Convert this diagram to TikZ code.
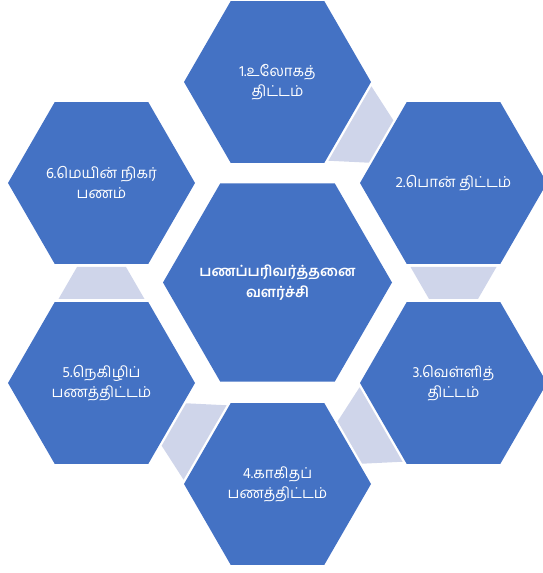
\documentclass[tikz,border=0pt]{standalone}
\usepackage{fontspec}
\setmainfont{Hind Madurai}[Script=Tamil]
\usetikzlibrary{shapes.geometric}
\usetikzlibrary{calc}
\definecolor{hexblue}{HTML}{4472C4}
\definecolor{linkgray}{HTML}{CFD5EA}

\begin{document}
\begin{tikzpicture}[x=1pt, y=1pt,
        hexa/.style={regular polygon, regular polygon sides=6, fill=hexblue, text=white, align=center, inner sep=-20pt, outer sep=0pt, minimum size=187pt, font=\fontsize{15}{20}\selectfont},
        hub/.style={hexa, minimum size=229pt, font=\fontsize{14.5}{21}\selectfont\bfseries}]
        \useasboundingbox (0,0) rectangle (542,573);
        % Draw the centre hexagon
        \node[hub] (core) at (277.5,290.5) {பணப்பரிவர்த்தனை\\வளர்ச்சி};
        % Draw the six stages
        \node[hexa] (s1) at (277.5,491) {1.உலோகத்\\திட்டம்};
        \node[hexa] (s2) at (453.5,390) {2.பொன் திட்டம்};
        \node[hexa] (s3) at (453.5,190) {3.வெள்ளித்\\திட்டம்};
        \node[hexa] (s4) at (277.5,89) {4.காகிதப்\\பணத்திட்டம்};
        \node[hexa] (s5) at (101.5,190) {5.நெகிழிப்\\பணத்திட்டம்};
        \node[hexa] (s6) at (101.5,390) {6.மெயின் நிகர்\\பணம்};
        % Draw the links between the stages
        \foreach \s/\t/\r/\l in {s1/s2/-30/18, s2/s3/-90/16, s3/s4/-150/18, s4/s5/150/18, s5/s6/90/16}{
            \fill[linkgray, shift={($(\s.center)!0.5!(\t.center)$)}, rotate=\r] (-\l,-43) -- (-\l,43) -- (\l,24.5) -- (\l,-24.5) -- cycle;
        }
\end{tikzpicture}
\end{document}
